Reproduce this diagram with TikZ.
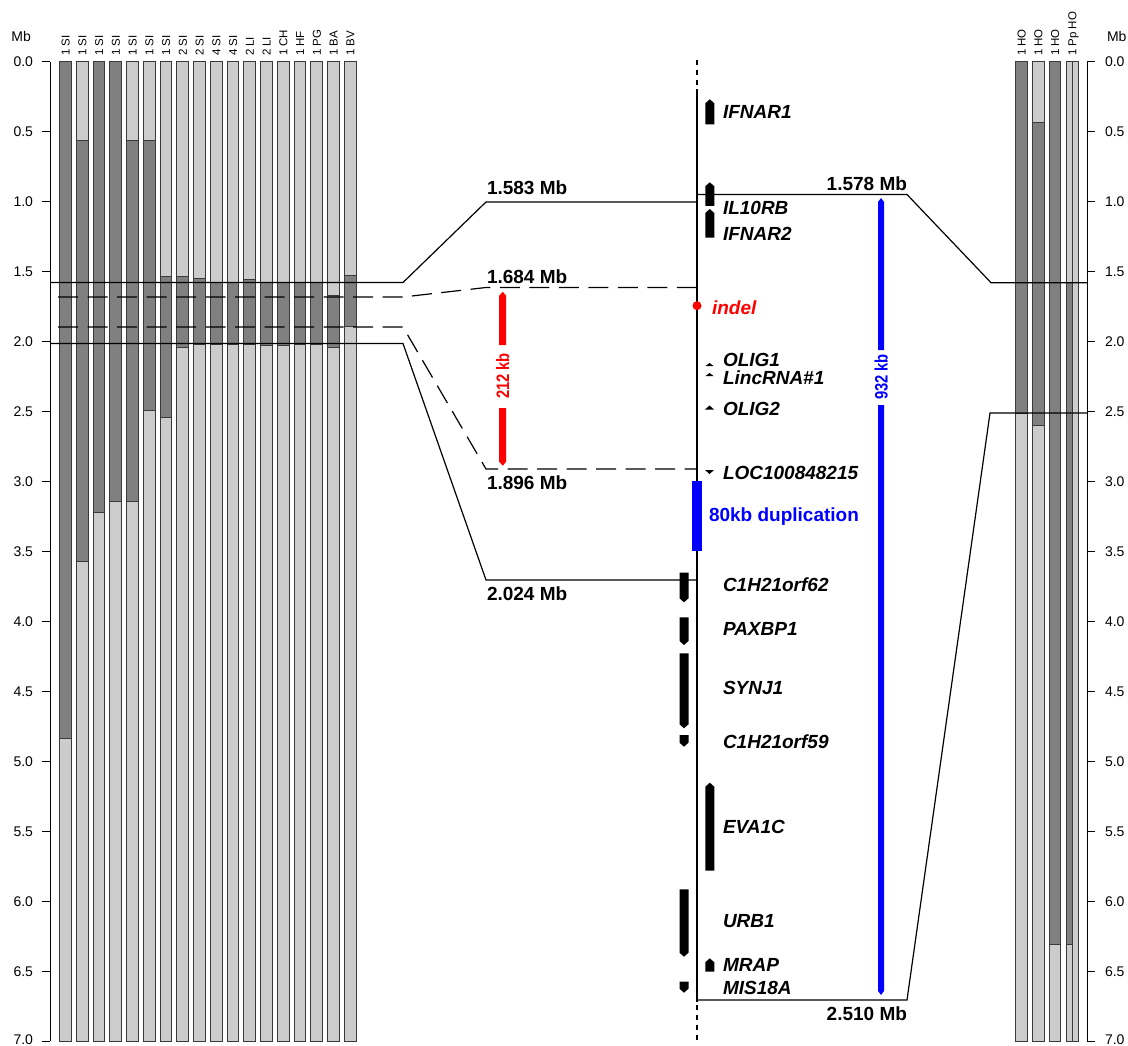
\documentclass[tikz,border=0pt]{standalone}
\usepackage{fontspec}
\setmainfont{Liberation Sans}
\definecolor{dk}{HTML}{808080}
\definecolor{lt}{HTML}{CCCCCC}
\definecolor{bd}{HTML}{3A3A3A}
\definecolor{myred}{HTML}{FF0000}
\definecolor{myblue}{HTML}{0000FF}
\newcommand\myfs[1]{\fontsize{#1}{#1}\selectfont}
\newcommand\geneup[3]{\fill[genebody] (#1,#3) -- (#1,{#2+4}) -- ({#1+4.5},#2) -- ({#1+9},{#2+4}) -- ({#1+9},#3) -- cycle;}
\newcommand\genedn[3]{\fill[genebody] (#1,#2) -- (#1,{#3-4}) -- ({#1+4.5},#3) -- ({#1+9},{#3-4}) -- ({#1+9},#2) -- cycle;}
\newcommand\kbarrow[7]{%
  \fill[#6] ({#1-#7},#4) -- ({#1-#7},{#2+4}) -- (#1,#2) -- ({#1+#7},{#2+4}) -- ({#1+#7},#4) -- cycle;
  \fill[#6] ({#1-#7},#5) -- ({#1-#7},{#3-4}) -- (#1,#3) -- ({#1+#7},{#3-4}) -- ({#1+#7},#5) -- cycle;}
\begin{document}
\begin{tikzpicture}[x=1pt,y=-1pt,
 every node/.style={inner sep=0pt,outer sep=0pt},
 barbox/.style={draw=bd,line width=1pt},
 axisline/.style={line width=1pt,black},
 conn/.style={line width=1.2pt,black},
 dconn/.style={conn,dash pattern=on 20pt off 9.5pt,dash phase=21.5pt},
 ticklab/.style={font=\myfs{14},text height=10pt,text depth=0pt},
 collab/.style={font=\myfs{11.5},rotate=90,anchor=west,text height=8.2pt,text depth=0pt},
 mblab/.style={font=\myfs{19}\bfseries,text height=13.6pt,text depth=0pt},
 genelab/.style={font=\myfs{19}\bfseries\itshape,text height=13.6pt,text depth=0pt,anchor=west},
 genebody/.style={fill=black},
 kblab/.style={font=\myfs{18}\bfseries,rotate=90,text height=13pt,text depth=0pt},
]
\useasboundingbox (0,0) rectangle (1128,1046);

% ---------- left bars ----------
\foreach \i/\a/\b in {0/0/4.835,1/0.558/3.575,2/0/3.22,3/0/3.145,4/0.558/3.145,5/0.558/2.495,
  6/1.535/2.54,7/1.535/2.04,8/1.547/2.02,9/1.58/2.02,10/1.58/2.02,11/1.552/2.02,
  12/1.58/2.025,13/1.58/2.025,14/1.58/2.02,15/1.58/2.02,16/1.667/2.04,17/1.53/1.89}{
  \pgfmathsetmacro\xl{59.5+16.76*\i}
  \draw[barbox,fill=lt] (\xl,62) rectangle ({\xl+11.8},1041);
  \draw[barbox,fill=dk] (\xl,{62+139.857*\a}) rectangle ({\xl+11.8},{62+139.857*\b});
}
\foreach \t [count=\n from 0] in {1 SI,1 SI,1 SI,1 SI,1 SI,1 SI,1 SI,2 SI,2 SI,4 SI,4 SI,2 LI,2 LI,1 CH,1 HF,1 PG,1 BA,1 BV}{
  \node[collab] (cl\n) at ({65.4+16.76*\n},56) {\t};
}

% ---------- right bars ----------
\foreach \xl/\a/\b [count=\n] in {1015.7/0/2.51,1032.7/0.43/2.60,1049.3/0/6.31}{
  \draw[barbox,fill=lt] (\xl,62) rectangle ({\xl+11.6},1041);
  \draw[barbox,fill=dk] (\xl,{62+139.857*\a}) rectangle ({\xl+11.6},{62+139.857*\b});
}
\draw[barbox,fill=lt] (1066.3,62) rectangle (1072.3,1041);
\draw[barbox,fill=dk] (1066.3,{62+139.857*1.58}) rectangle (1072.3,{62+139.857*6.31});
\draw[barbox,fill=lt] (1072.3,62) rectangle (1078.3,1041);
\foreach \t [count=\n] in {1 HO,1 HO,1 HO,1 Pp HO}{
  \pgfmathsetmacro\xc{\n<4 ? 1021.5+16.8*(\n-1) : 1072.3}
  \node[collab] (cr\n) at (\xc,56) {\t};
}

% ---------- axes ----------
\node[font=\myfs{14},anchor=west,text height=10pt,text depth=0pt] (mbl) at (11.5,37) {Mb};
\node[font=\myfs{14},anchor=west,text height=10pt,text depth=0pt] (mbr) at (1107,37) {Mb};
\draw[axisline] (50,62) -- (50,1041);
\draw[axisline] (1087,62) -- (1087,1041);
\foreach \k/\t in {0/0.0,1/0.5,2/1.0,3/1.5,4/2.0,5/2.5,6/3.0,7/3.5,8/4.0,9/4.5,10/5.0,11/5.5,12/6.0,13/6.5,14/7.0}{
  \draw[axisline] (42,{62+69.93*\k}) -- (50,{62+69.93*\k});
  \draw[axisline] (1087,{62+69.93*\k}) -- (1095,{62+69.93*\k});
  \pgfmathsetmacro\ly{\k<14 ? 62+69.93*\k : 62+69.93*\k-1.5}
  \node[ticklab,anchor=east] (tl\k) at (33,\ly) {\t};
  \node[ticklab,anchor=west] (tr\k) at (1105,\ly) {\t};
}

% ---------- connectors ----------
\coordinate (a1) at (50,282.5);  \coordinate (a2) at (403,282.5); \coordinate (a3) at (486,202);   \coordinate (a4) at (697,202);
\coordinate (b1) at (50,297);    \coordinate (b2) at (403,297);   \coordinate (b3) at (486,287.5); \coordinate (b4) at (697,287.5);
\coordinate (c1) at (50,327);    \coordinate (c2) at (403,327);   \coordinate (c3) at (486,469);   \coordinate (c4) at (697,469);
\coordinate (d1) at (50,343.5);  \coordinate (d2) at (403,343.5); \coordinate (d3) at (486,580);   \coordinate (d4) at (697,580);
\coordinate (e1) at (697,194.5); \coordinate (e2) at (907,194.5); \coordinate (e3) at (991,282.7); \coordinate (e4) at (1087,282.7);
\coordinate (f1) at (697,1000);  \coordinate (f2) at (907,1000);  \coordinate (f3) at (990,413);   \coordinate (f4) at (1087,413);
\draw[conn] (a1) -- (a2) -- (a3) -- (a4);
\draw[dconn] (b1) -- (b2) -- (b3) -- (b4);
\draw[dconn] (c1) -- (c2) -- (c3) -- (c4);
\draw[conn] (d1) -- (d2) -- (d3) -- (d4);
\draw[conn] (e1) -- (e2) -- (e3) -- (e4);
\draw[conn] (f1) -- (f2) -- (f3) -- (f4);

\node[mblab,anchor=west] (m1) at (487,188) {1.583 Mb};
\node[mblab,anchor=west] (m2) at (487,276.7) {1.684 Mb};
\node[mblab,anchor=west] (m3) at (487,482.3) {1.896 Mb};
\node[mblab,anchor=west] (m4) at (487,594) {2.024 Mb};
\node[mblab,anchor=east] (m5) at (907,184) {1.578 Mb};
\node[mblab,anchor=east] (m6) at (907,1013.5) {2.510 Mb};

% ---------- chromosome ----------
\draw[line width=2.5pt] (697,89) -- (697,1002);
\draw[line width=2.5pt,dash pattern=on 5pt off 5pt] (697,60) -- (697,88);
\draw[line width=2.5pt,dash pattern=on 5pt off 5pt] (697,1005) -- (697,1041);
\fill[myblue] (692.3,480.7) rectangle (702.3,550.7);
\fill[myred] (697,305.7) circle (4.5pt);

% ---------- genes ----------
\geneup{705.3}{99.3}{124.3}
\geneup{705.3}{182.3}{206}
\geneup{705.3}{209}{237.7}
\fill[genebody] (705.5,366) -- (709.5,363) -- (713.5,366) -- cycle;
\fill[genebody] (705.5,376) -- (709.5,373) -- (713.5,376) -- cycle;
\fill[genebody] (705,409.5) -- (709.5,405.5) -- (714,409.5) -- cycle;
\fill[genebody] (705,470) -- (709.5,474) -- (714,470) -- cycle;
\genedn{679.5}{572.7}{602.3}
\genedn{679.5}{617.3}{645}
\genedn{679.5}{653.3}{728.3}
\genedn{679.5}{735}{746.7}
\geneup{705.3}{782.7}{870.7}
\genedn{679.5}{889.3}{956.7}
\geneup{705.3}{958.3}{971.7}
\genedn{679.5}{981.7}{992.7}

\node[genelab] (g1) at (723,112) {IFNAR1};
\node[genelab] (g2) at (723,207.5) {IL10RB};
\node[genelab] (g3) at (723,233.5) {IFNAR2};
\node[genelab,text=myred] (g4) at (712,308) {indel};
\node[genelab] (g5) at (723,359.3) {OLIG1};
\node[genelab] (g6) at (723,378) {LincRNA\#1};
\node[genelab] (g7) at (723,408.7) {OLIG2};
\node[genelab] (g8) at (723,472.7) {LOC100848215};
\node[mblab,anchor=west,text=myblue] (g9) at (709,515) {80kb duplication};
\node[genelab] (g10) at (723,585) {C1H21orf62};
\node[genelab] (g11) at (723,629) {PAXBP1};
\node[genelab] (g12) at (723,687.7) {SYNJ1};
\node[genelab] (g13) at (723,741.7) {C1H21orf59};
\node[genelab] (g14) at (723,826.7) {EVA1C};
\node[genelab] (g15) at (723,921) {URB1};
\node[genelab] (g16) at (723,965) {MRAP};
\node[genelab] (g17) at (723,987.7) {MIS18A};

% ---------- kb arrows ----------
\kbarrow{502.7}{291.7}{465.7}{345}{408}{myred}{3.5}
\kbarrow{881}{198}{995}{350}{405}{myblue}{3}
\node[kblab,text=myred] (k1) at (502.7,376) {\scalebox{0.82}[1]{212 kb}};
\node[kblab,text=myblue] (k2) at (881,377) {\scalebox{0.82}[1]{932 kb}};
\end{tikzpicture}
\end{document}
